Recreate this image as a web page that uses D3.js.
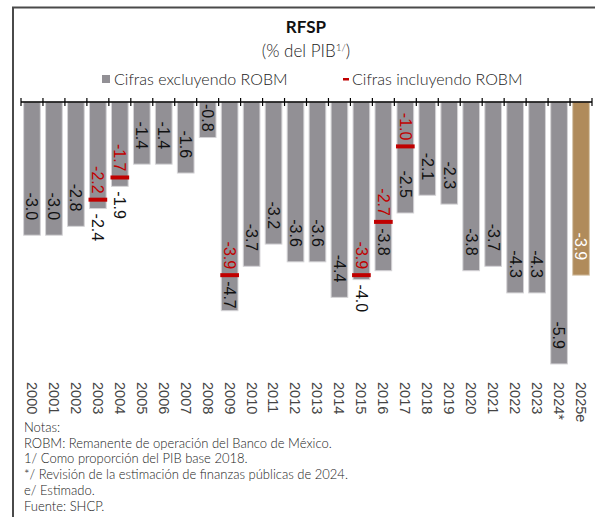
<!DOCTYPE html>
<html>
<head>
<meta charset="utf-8">
<script src="https://cdn.jsdelivr.net/npm/d3@7"></script>
<style>
  html, body { margin: 0; padding: 0; background: #fff; }
  svg { display: block; }
</style>
</head>
<body>
<svg id="chart" width="595" height="517"></svg>
<script>
// Años del eje
const years = ["2000","2001","2002","2003","2004","2005","2006","2007","2008","2009",
  "2010","2011","2012","2013","2014","2015","2016","2017","2018","2019",
  "2020","2021","2022","2023","2024*","2025e"];

// RFSP excluyendo el remanente de operación del Banco de México (% del PIB)
const excluyendo = [-3.0,-3.0,-2.8,-2.4,-1.9,-1.4,-1.4,-1.6,-0.8,-4.7,
  -3.7,-3.2,-3.6,-3.6,-4.4,-4.0,-3.8,-2.5,-2.1,-2.3,
  -3.8,-3.7,-4.3,-4.3,-5.9,-3.9];

// RFSP incluyendo el ROBM (solo en los años con remanente)
const incluyendo = [null,null,null,-2.2,-1.7,null,null,null,null,-3.9,
  null,null,null,null,null,-3.9,-2.7,-1.0,null,null,
  null,null,null,null,null,null];

const notas = [
  "Notas:",
  "ROBM: Remanente de operación del Banco de México.",
  "1/ Como proporción del PIB base 2018.",
  "*/ Revisión de la estimación de finanzas públicas de 2024.",
  "e/ Estimado.",
  "Fuente: SHCP."
];

const gris = "#929095", dorado = "#b08b5b", rojo = "#c00000";
const fontTxt = "Lato, 'Open Sans', sans-serif";
const fontNum = "'Liberation Sans', Arial, sans-serif";
const fontYear = "'Liberation Sans Narrow', 'Liberation Sans', sans-serif";

const svg = d3.select("#chart");

// Marco
svg.append("path")
  .attr("d", "M13,517 L13,7.5 L595,7.5")
  .attr("fill", "none").attr("stroke", "#4a4a4a").attr("stroke-width", 2);

// Título
svg.append("text").attr("x", 306).attr("y", 33).attr("text-anchor", "middle")
  .attr("font-family", fontTxt).attr("font-weight", 700).attr("font-size", 17)
  .attr("fill", "#111").text("RFSP");
const sub = svg.append("text").attr("x", 306).attr("y", 57).attr("text-anchor", "middle")
  .attr("font-family", fontTxt).attr("font-weight", 300).attr("font-size", 17).attr("fill", "#222");
sub.append("tspan").text("(% del PIB");
sub.append("tspan").attr("font-size", 10).attr("dy", -6).text("1/");
sub.append("tspan").attr("dy", 6).text(")");

// Leyenda
const lg = svg.append("g").attr("font-family", fontTxt).attr("font-weight", 300)
  .attr("font-size", 16).attr("fill", "#222");
lg.append("rect").attr("x", 102).attr("y", 75).attr("width", 8).attr("height", 8).attr("fill", gris);
lg.append("text").attr("x", 114).attr("y", 85).text("Cifras excluyendo ROBM");
lg.append("rect").attr("x", 343).attr("y", 78).attr("width", 6).attr("height", 2.5).attr("fill", rojo);
lg.append("text").attr("x", 352).attr("y", 85).text("Cifras incluyendo ROBM");

// Escalas
const x = d3.scaleBand().domain(years).range([21, 592]).paddingInner(0.24).paddingOuter(0.12);
const y = d3.scaleLinear().domain([0, -6]).range([102, 368.4]);
const y0 = y(0);

const data = years.map((yr, i) => ({ yr, v: excluyendo[i], r: incluyendo[i], last: i === years.length - 1 }));

// Barras
svg.append("g").selectAll("rect").data(data).join("rect")
  .attr("x", d => x(d.yr)).attr("width", x.bandwidth())
  .attr("y", y0).attr("height", d => y(d.v) - y0)
  .attr("fill", d => d.last ? dorado : gris)
  .attr("stroke", d => d.last ? "#d8c7ae" : "#d4d3d6").attr("stroke-width", 1);

// Eje superior con marcas en los límites de cada categoría
const ax = svg.append("g").attr("stroke", "#000");
const r0 = x.range()[0], step = x.step();
ax.append("line").attr("x1", r0).attr("x2", x.range()[1]).attr("y1", y0).attr("y2", y0).attr("stroke-width", 1.5);
ax.selectAll("line.tk").data(d3.range(years.length + 1)).join("line").attr("class", "tk")
  .attr("x1", i => r0 + i * step).attr("x2", i => r0 + i * step)
  .attr("y1", y0 - 4).attr("y2", y0 + 4).attr("stroke-width", 1.2);

// Marcadores de cifras incluyendo ROBM
const withR = data.filter(d => d.r != null);
svg.append("g").selectAll("rect").data(withR).join("rect")
  .attr("x", d => x(d.yr) - 1).attr("width", x.bandwidth() + 2)
  .attr("y", d => y(d.r) - 2).attr("height", 4).attr("fill", rojo);

// Etiquetas de valores (texto girado 90°), con guion corto como signo
const fmt = d3.formatLocale({ decimal: ".", thousands: ",", grouping: [3], currency: ["$", ""], minus: "-" }).format(".1f");
const lblG = svg.append("g").attr("font-family", fontNum).attr("font-size", 16);

data.forEach(d => {
  const cx = x(d.yr) + x.bandwidth() / 2;
  const bottom = y(d.v);
  const t = lblG.append("text").attr("dy", "0.35em")
    .attr("fill", d.last ? "#fff" : "#111").text(fmt(d.v));
  const len = t.node().getComputedTextLength();
  let end = Math.max(bottom - 15, y0 + 2 + len);
  let anchor = "end", pos = end;
  if (d.r != null) {
    const my = y(d.r);
    if (end - len <= my + 4) {
      anchor = "start";
      // debajo del marcador si cabe dentro de la barra; si no, bajo la barra
      pos = (bottom - (my + 6) >= len - 1) ? my + 6 : bottom + 5;
    }
    lblG.append("text").attr("dy", "0.35em").attr("fill", rojo)
      .attr("text-anchor", "end")
      .attr("transform", `translate(${cx},${my - 6}) rotate(90)`)
      .text(fmt(d.r));
  }
  t.attr("text-anchor", anchor).attr("transform", `translate(${cx},${pos}) rotate(90)`);
});

// Etiquetas de años
svg.append("g").attr("font-family", fontYear).attr("font-size", 14.5).attr("fill", "#444")
  .selectAll("text").data(years).join("text")
  .attr("dy", "0.35em")
  .attr("transform", d => `translate(${x(d) + x.bandwidth() / 2},382) rotate(90)`)
  .text(d => d);

// Notas
svg.append("g").attr("font-family", fontTxt).attr("font-weight", 300).attr("font-size", 13).attr("fill", "#222")
  .selectAll("text").data(notas).join("text")
  .attr("x", 24).attr("y", (d, i) => 431.7 + i * 15.8)
  .text(d => d);
</script>
</body>
</html>
